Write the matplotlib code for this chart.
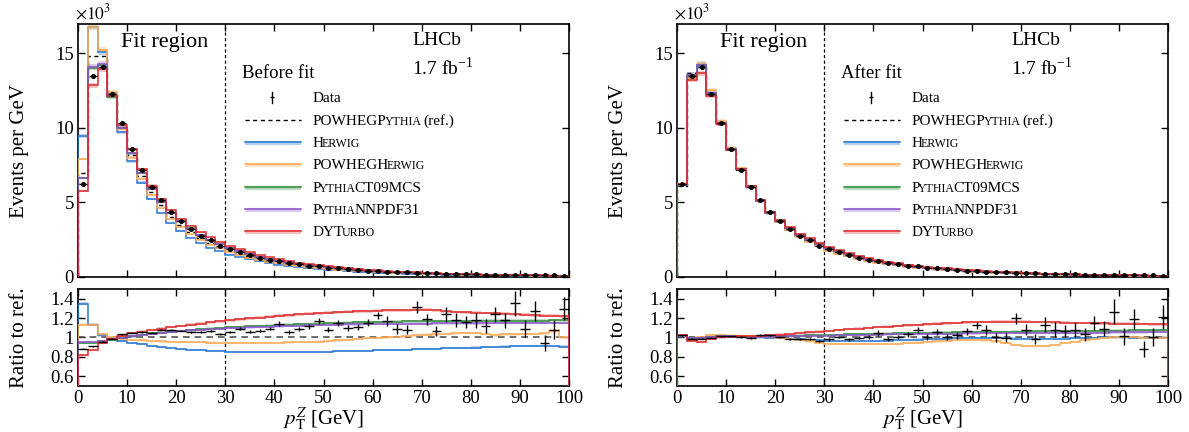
import numpy as np
import matplotlib
matplotlib.use('Agg')
import matplotlib.pyplot as plt

plt.rcParams['font.family'] = ['Liberation Serif', 'DejaVu Serif']
plt.rcParams['mathtext.fontset'] = 'stix'

# ---------------- data ----------------
edges = list(range(0, 101, 2))

# measured distribution (x10^3 events per GeV)
data = [6.2, 13.5, 14.1, 12.25, 10.35, 8.6, 7.2, 6.0, 5.15, 4.35,
        3.75, 3.2, 2.75, 2.45, 2.1, 1.85, 1.7, 1.45, 1.3, 1.15,
        1.05, 0.92, 0.85, 0.76, 0.70, 0.62, 0.57, 0.51, 0.47, 0.43,
        0.40, 0.36, 0.32, 0.30, 0.29, 0.26, 0.23, 0.22, 0.20, 0.19,
        0.17, 0.16, 0.15, 0.14, 0.13, 0.12, 0.11, 0.10, 0.095, 0.09]

# reference prediction (POWHEGPythia) before and after fit
ref_before = [7.0, 14.85, 14.8, 12.4, 10.05, 8.2, 6.8, 5.7, 4.8, 4.05,
              3.5, 3.02, 2.62, 2.29, 2.02, 1.76, 1.56, 1.38, 1.22, 1.08,
              0.96, 0.86, 0.77, 0.69, 0.62, 0.56, 0.505, 0.46, 0.415, 0.375,
              0.34, 0.31, 0.28, 0.255, 0.233, 0.213, 0.195, 0.178, 0.163, 0.15,
              0.138, 0.127, 0.117, 0.108, 0.1, 0.092, 0.085, 0.079, 0.073, 0.068]
ref_after = [6.08, 13.7, 14.3, 12.3, 10.25, 8.5, 7.18, 6.02, 5.08, 4.28,
             3.72, 3.22, 2.78, 2.46, 2.16, 1.88, 1.68, 1.48, 1.31, 1.15,
             1.02, 0.91, 0.82, 0.74, 0.66, 0.6, 0.545, 0.495, 0.45, 0.41,
             0.372, 0.338, 0.307, 0.28, 0.256, 0.234, 0.214, 0.196, 0.18, 0.165,
             0.152, 0.14, 0.129, 0.119, 0.11, 0.102, 0.094, 0.087, 0.081, 0.075]

# data / reference ratio
data_ratio_before = [0.884, 0.908, 0.953, 0.988, 1.03, 1.047, 1.057, 1.047, 1.08, 1.08,
                     1.07, 1.057, 1.057, 1.07, 1.036, 1.054, 1.088, 1.057, 1.07, 1.088,
                     1.14, 1.057, 1.088, 1.116, 1.168, 1.08, 1.15, 1.099, 1.105, 1.15,
                     1.227, 1.168, 1.088, 1.08, 1.313, 1.185, 1.064, 1.237, 1.178, 1.158,
                     1.178, 1.116, 1.237, 1.175, 1.351, 1.088, 1.272, 0.943, 1.08, 1.296]
data_ratio_after = [1.02, 0.985, 0.985, 0.995, 1.01, 1.01, 1.005, 0.995, 1.025, 1.02,
                    1.0, 0.985, 0.98, 0.98, 0.96, 0.98, 1.005, 0.98, 0.995, 1.005,
                    1.045, 0.98, 1.005, 1.03, 1.075, 1.005, 1.055, 1.005, 1.02, 1.065,
                    1.125, 1.075, 1.0, 0.995, 1.195, 1.08, 0.98, 1.13, 1.08, 1.065,
                    1.08, 1.03, 1.15, 1.09, 1.265, 1.01, 1.19, 0.88, 1.005, 1.21]
data_ratio_err = [0.008, 0.006, 0.006, 0.006, 0.006, 0.007, 0.007, 0.007, 0.008, 0.008,
                  0.009, 0.01, 0.01, 0.011, 0.012, 0.013, 0.014, 0.015, 0.016, 0.017,
                  0.026, 0.02, 0.022, 0.025, 0.035, 0.028, 0.03, 0.032, 0.034, 0.036,
                  0.036, 0.05, 0.05, 0.045, 0.06, 0.057, 0.052, 0.078, 0.075, 0.066,
                  0.078, 0.07, 0.075, 0.078, 0.13, 0.087, 0.1, 0.083, 0.095, 0.12]

# model / reference ratios, before fit
herwig_before = [1.35, 1.13, 1.02, 0.99, 0.965, 0.945, 0.93, 0.915, 0.90, 0.89,
                 0.88, 0.87, 0.865, 0.86, 0.855, 0.85, 0.85, 0.848, 0.848, 0.848,
                 0.848, 0.848, 0.848, 0.85, 0.85, 0.852, 0.855, 0.857, 0.86, 0.862,
                 0.865, 0.867, 0.87, 0.872, 0.875, 0.878, 0.88, 0.885, 0.888, 0.892,
                 0.895, 0.898, 0.90, 0.905, 0.91, 0.915, 0.915, 0.912, 0.91, 0.905]
powhegherwig_before = [1.13, 1.13, 1.03, 1.0, 0.985, 0.975, 0.968, 0.962, 0.958, 0.955,
                       0.952, 0.95, 0.948, 0.946, 0.945, 0.944, 0.943, 0.943, 0.943, 0.944,
                       0.945, 0.947, 0.95, 0.953, 0.957, 0.962, 0.968, 0.975, 0.982, 0.99,
                       0.995, 1.0, 1.005, 1.01, 1.02, 1.028, 1.03, 1.035, 1.04, 1.045,
                       1.045, 1.035, 1.02, 1.03, 1.03, 1.035, 1.035, 1.04, 1.07, 1.0]
ct09_before = [0.945, 0.945, 0.96, 0.975, 0.995, 1.01, 1.025, 1.04, 1.05, 1.06,
               1.068, 1.076, 1.083, 1.09, 1.096, 1.102, 1.108, 1.113, 1.118, 1.122,
               1.126, 1.13, 1.134, 1.138, 1.142, 1.145, 1.148, 1.151, 1.154, 1.156,
               1.158, 1.16, 1.162, 1.164, 1.165, 1.166, 1.167, 1.168, 1.169, 1.17,
               1.17, 1.171, 1.171, 1.172, 1.172, 1.173, 1.173, 1.174, 1.175, 1.175]
nnpdf_before = [0.95, 0.95, 0.965, 0.978, 0.995, 1.01, 1.024, 1.037, 1.047, 1.056,
                1.064, 1.071, 1.078, 1.084, 1.09, 1.095, 1.1, 1.104, 1.108, 1.112,
                1.115, 1.118, 1.121, 1.124, 1.127, 1.129, 1.131, 1.133, 1.135, 1.137,
                1.138, 1.139, 1.14, 1.141, 1.142, 1.143, 1.144, 1.144, 1.145, 1.145,
                1.146, 1.146, 1.147, 1.147, 1.147, 1.148, 1.148, 1.148, 1.148, 1.148]
dyturbo_before = [0.82, 0.865, 0.94, 0.98, 1.015, 1.045, 1.06, 1.075, 1.09, 1.105,
                  1.118, 1.13, 1.142, 1.155, 1.165, 1.175, 1.185, 1.195, 1.205, 1.215,
                  1.222, 1.23, 1.237, 1.243, 1.25, 1.255, 1.26, 1.264, 1.268, 1.272,
                  1.275, 1.278, 1.28, 1.282, 1.284, 1.283, 1.278, 1.27, 1.262, 1.258,
                  1.255, 1.252, 1.248, 1.243, 1.238, 1.232, 1.228, 1.225, 1.222, 1.218]

# model / reference ratios, after fit
herwig_after = [1.025, 0.975, 0.985, 1.0, 1.005, 1.005, 1.005, 1.003, 1.0, 0.995,
                0.99, 0.984, 0.978, 0.972, 0.968, 0.965, 0.963, 0.962, 0.962, 0.963,
                0.965, 0.967, 0.97, 0.973, 0.977, 0.98, 0.984, 0.988, 0.991, 0.993,
                0.994, 0.994, 0.992, 0.99, 0.988, 0.986, 0.985, 0.985, 0.986, 0.988,
                0.99, 0.993, 0.996, 0.999, 1.0, 1.0, 0.998, 0.996, 0.994, 0.992]
powhegherwig_after = [1.025, 0.975, 1.0, 1.02, 1.022, 1.018, 1.014, 1.01, 1.006, 1.002,
                      0.995, 0.985, 0.972, 0.958, 0.945, 0.935, 0.93, 0.928, 0.927, 0.928,
                      0.93, 0.932, 0.935, 0.94, 0.946, 0.952, 0.958, 0.965, 0.97, 0.972,
                      0.972, 0.968, 0.958, 0.945, 0.925, 0.912, 0.91, 0.915, 0.925, 0.94,
                      0.955, 0.97, 0.983, 0.993, 1.0, 1.002, 1.0, 0.998, 0.997, 0.996]
ct09_after = [1.015, 0.99, 0.995, 1.005, 1.01, 1.01, 1.008, 1.008, 1.01, 1.012,
              1.014, 1.016, 1.018, 1.02, 1.022, 1.025, 1.027, 1.03, 1.032, 1.034,
              1.036, 1.038, 1.04, 1.042, 1.044, 1.046, 1.048, 1.05, 1.052, 1.054,
              1.055, 1.056, 1.057, 1.058, 1.059, 1.06, 1.061, 1.062, 1.063, 1.064,
              1.065, 1.066, 1.067, 1.068, 1.069, 1.07, 1.071, 1.072, 1.073, 1.074]
nnpdf_after = [1.015, 0.99, 0.995, 1.005, 1.01, 1.01, 1.008, 1.006, 1.007, 1.008,
               1.009, 1.01, 1.012, 1.014, 1.016, 1.018, 1.02, 1.022, 1.024, 1.026,
               1.028, 1.03, 1.032, 1.033, 1.035, 1.036, 1.037, 1.038, 1.039, 1.04,
               1.041, 1.042, 1.043, 1.044, 1.045, 1.046, 1.047, 1.047, 1.048, 1.048,
               1.049, 1.049, 1.05, 1.05, 1.051, 1.051, 1.052, 1.052, 1.053, 1.053]
dyturbo_after = [1.025, 0.965, 0.955, 0.985, 1.0, 1.005, 1.01, 1.012, 1.016, 1.022,
                 1.028, 1.036, 1.044, 1.052, 1.06, 1.068, 1.076, 1.084, 1.091, 1.098,
                 1.105, 1.111, 1.117, 1.123, 1.129, 1.135, 1.14, 1.145, 1.15, 1.155,
                 1.158, 1.16, 1.162, 1.163, 1.163, 1.162, 1.16, 1.158, 1.155, 1.152,
                 1.15, 1.148, 1.146, 1.145, 1.143, 1.142, 1.14, 1.138, 1.136, 1.134]

fit_boundary = 30

# ---------------- style ----------------
NS = 11.0   # legend normal size
SC = 8.6    # legend small-caps size
models = [
    ("Herwig", [("H", NS), ("ERWIG", SC)], '#2a78d0', '#8fbcec'),
    ("POWHEGHerwig", [("POWHEGH", NS), ("ERWIG", SC)], '#ffaa55', '#ffd2a6'),
    ("PythiaCT09MCS", [("P", NS), ("YTHIA", SC), ("CT09MCS", NS)], '#2e8b3a', '#9ccaa2'),
    ("PythiaNNPDF31", [("P", NS), ("YTHIA", SC), ("NNPDF31", NS)], '#8a55c8', '#c9b0e8'),
    ("DYTurbo", [("DYT", NS), ("URBO", SC)], '#dd2a2a', '#f0a0a0'),
]
ratios = {
    'before': [herwig_before, powhegherwig_before, ct09_before, nnpdf_before, dyturbo_before],
    'after': [herwig_after, powhegherwig_after, ct09_after, nnpdf_after, dyturbo_after],
}
refs = {'before': ref_before, 'after': ref_after}
dratio = {'before': data_ratio_before, 'after': data_ratio_after}
titles = {'before': 'Before fit', 'after': 'After fit'}
band_rel = 0.012

edges_a = np.array(edges, dtype=float)
centers = 0.5 * (edges_a[1:] + edges_a[:-1])
halfw = 0.5 * (edges_a[1:] - edges_a[:-1])

fig = plt.figure(figsize=(11.89, 4.32), dpi=100)
renderer = fig.canvas.get_renderer()
lefts = [0.0656, 0.5694]
W = 0.4130
KERN_PX = 2.0
SPACE_PX = 3.5


def style_axes(ax):
    ax.tick_params(direction='in', top=True, right=True, length=5, width=1.0,
                   labelsize=13.5, pad=3)
    for s in ax.spines.values():
        s.set_linewidth(1.2)
    ax.set_xlim(0, 100)
    ax.set_xticks(range(0, 101, 10))


def rich_text(ax, x, y, parts):
    # y is the vertical centre of capitals; place pieces on a common baseline
    yb = y - 0.019
    inv = ax.transAxes.inverted()
    for t, sz in parts:
        gap = 0.0
        if t.startswith(' '):
            t = t.strip()
            gap = SPACE_PX
        if gap:
            x = inv.transform((ax.transAxes.transform((x, yb))[0] + gap, 0))[0]
        txt = ax.text(x, yb, t, transform=ax.transAxes, fontsize=sz,
                      ha='left', va='baseline')
        bb = txt.get_window_extent(renderer)
        x = inv.transform((bb.x1 - KERN_PX, bb.y0))[0]


for i, key in enumerate(['before', 'after']):
    axt = fig.add_axes([lefts[i], 0.359, W, 0.585])
    axr = fig.add_axes([lefts[i], 0.1072, W, 0.2238])
    ref = np.array(refs[key])
    dat = np.array(data)
    err = np.array(data_ratio_err)

    # ---- top panel ----
    axt.stairs(ref, edges_a, color='k', lw=1.0, ls=(0, (3, 2.5)), zorder=3)
    for (name, parts, col, bcol), r in zip(models, ratios[key]):
        v = ref * np.array(r)
        axt.stairs(v * (1 + band_rel), edges_a, baseline=v * (1 - band_rel),
                   fill=True, color=bcol, alpha=0.6, lw=0, zorder=2)
        axt.stairs(v, edges_a, color=col, lw=1.1, zorder=4)
    axt.errorbar(centers, dat, yerr=dat * err, xerr=halfw * 0.8, fmt='o', ms=2.6,
                 color='k', lw=1.0, capsize=0, zorder=6)
    axt.axvline(fit_boundary, color='k', lw=0.9, ls=(0, (2.5, 2)), zorder=1)
    style_axes(axt)
    axt.set_ylim(0, 16.95)
    axt.set_yticks([0, 5, 10, 15])
    axt.tick_params(labelbottom=False)
    axt.text(-0.006, 1.004, r'$\times10^{3}$', transform=axt.transAxes,
             ha='left', va='bottom', fontsize=12.5)
    axt.set_ylabel('Events per GeV', fontsize=15)
    axt.yaxis.set_label_coords(-0.100, 0.5)

    axt.text(0.087, 0.929, 'Fit region', transform=axt.transAxes, fontsize=16,
             ha='left', va='center')
    axt.text(0.681, 0.934, 'LHCb', transform=axt.transAxes, fontsize=14,
             ha='left', va='center')
    axt.text(0.681, 0.826, r'1.7 fb$^{\mathregular{-1}}$', transform=axt.transAxes,
             fontsize=14, ha='left', va='center')
    axt.text(0.333, 0.806, titles[key], transform=axt.transAxes, fontsize=13.5,
             ha='left', va='center')

    # legend
    ys = [0.711, 0.621, 0.534, 0.447, 0.356, 0.269, 0.182]
    lx0, lx1, tx, mx = 0.341, 0.455, 0.478, 0.396
    axt.plot([mx, mx], [ys[0] - 0.022, ys[0] + 0.022], color='k', lw=1.0,
             transform=axt.transAxes)
    axt.plot([mx], [ys[0]], marker='_', ms=3, color='k', mew=1.0,
             transform=axt.transAxes)
    rich_text(axt, tx, ys[0], [("Data", NS)])
    axt.plot([lx0, lx1], [ys[1], ys[1]], color='k', lw=1.0, ls=(0, (3, 2.5)),
             transform=axt.transAxes)
    rich_text(axt, tx, ys[1], [("POWHEGP", NS), ("YTHIA", SC), (" (ref.)", NS)])
    for j, (name, parts, col, bcol) in enumerate(models):
        y = ys[j + 2]
        axt.plot([lx0, lx1], [y - 0.006, y - 0.006], color=bcol, lw=3.0, alpha=0.7,
                 transform=axt.transAxes, solid_capstyle='butt')
        axt.plot([lx0, lx1], [y, y], color=col, lw=1.1, transform=axt.transAxes)
        rich_text(axt, tx, y, parts)

    # ---- ratio panel ----
    for (name, parts, col, bcol), r in zip(models, ratios[key]):
        rv = np.array(r)
        axr.stairs(rv * (1 + band_rel), edges_a, baseline=rv * (1 - band_rel),
                   fill=True, color=bcol, alpha=0.6, lw=0, zorder=2)
        axr.stairs(rv, edges_a, color=col, lw=1.1, zorder=4)
    axr.axhline(1.0, color='#555555', lw=1.2, ls=(0, (4, 3)), zorder=3)
    axr.errorbar(centers, dratio[key], yerr=err, xerr=halfw, fmt='none',
                 color='k', lw=1.0, capsize=0, zorder=6)
    axr.axvline(fit_boundary, color='k', lw=0.9, ls=(0, (2.5, 2)), zorder=1)
    style_axes(axr)
    axr.set_ylim(0.5, 1.5)
    axr.set_yticks([0.6, 0.8, 1.0, 1.2, 1.4])
    axr.set_yticklabels(['0.6', '0.8', '1', '1.2', '1.4'])
    axr.set_ylabel('Ratio to ref.', fontsize=15)
    axr.yaxis.set_label_coords(-0.100, 0.5)
    axr.set_xlabel(r'$p_{\mathrm{T}}^{Z}$ [GeV]', fontsize=15, labelpad=-1)

fig.savefig('out.png', dpi=100)
